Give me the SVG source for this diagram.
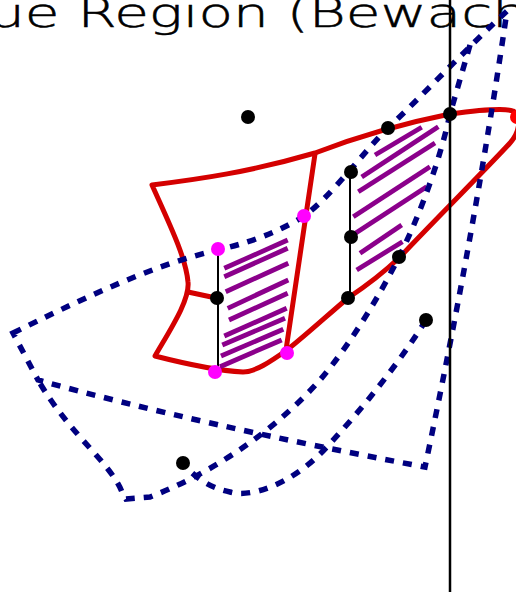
<svg xmlns="http://www.w3.org/2000/svg" width="516" height="592" viewBox="0 0 516 592">
<style>
.title{font-family:"DejaVu Sans","Liberation Sans",sans-serif;font-weight:200;font-size:40px;fill:#000;stroke:#000;stroke-width:0.5}
.red{fill:none;stroke:#d40000;stroke-width:5;stroke-linejoin:round;stroke-linecap:round}
.blue{fill:none;stroke:#000080;stroke-width:5.5;stroke-dasharray:9 9}
.hatch{stroke:#8b008b;stroke-width:4.8;stroke-linecap:butt}
.thin{stroke:#000;stroke-width:2}
.axis{stroke:#000;stroke-width:2.5}
.dot{fill:#000}
.mag{fill:#ff00ff}
</style>
<rect width="516" height="592" fill="#fff"/>
<g id="title">
<text class="title" x="-11" y="27" textLength="539" lengthAdjust="spacingAndGlyphs">ue Region (Bewach</text>
</g>
<g id="red-region">
<path class="red" d="M152,185 C200,179 250,172 315,153 Q380,128 450,114 C480,110 505,108 513,111 C522,116 520,132 510,143 C490,165 430,225 400,257 C380,276 360,290 348,298 C330,313 305,336 287,350 C270,362 255,372 243,372 C225,371 190,365 155,356 C170,330 190,300 188,282 C186,258 170,225 152,185 Z"/>
<path class="red" d="M188,292 L216,298"/>
<path class="red" d="M315,154 L286,350"/>
</g>
<g id="hatch-left">
<line class="hatch" x1="224.3" y1="268.3" x2="287.7" y2="240"/>
<line class="hatch" x1="224.3" y1="276.7" x2="287.7" y2="248.3"/>
<line class="hatch" x1="225.7" y1="291.7" x2="288.3" y2="263.3"/>
<line class="hatch" x1="227.7" y1="308.3" x2="288.3" y2="280"/>
<line class="hatch" x1="229" y1="320" x2="287.7" y2="293.3"/>
<line class="hatch" x1="224.3" y1="336" x2="286.7" y2="308.3"/>
<line class="hatch" x1="222.3" y1="345" x2="285" y2="318.3"/>
<line class="hatch" x1="221" y1="356" x2="283.3" y2="329.3"/>
<line class="hatch" x1="220" y1="366.7" x2="281.7" y2="340"/>
</g>
<g id="hatch-right">
<line class="hatch" x1="375" y1="155" x2="421.7" y2="127.3"/>
<line class="hatch" x1="361.7" y1="177" x2="438.3" y2="126.7"/>
<line class="hatch" x1="358.3" y1="191.7" x2="435" y2="143"/>
<line class="hatch" x1="353.3" y1="216.7" x2="430" y2="166.7"/>
<line class="hatch" x1="350" y1="236.7" x2="426.7" y2="186.7"/>
<line class="hatch" x1="360" y1="253.3" x2="401.7" y2="225"/>
<line class="hatch" x1="356.7" y1="270" x2="402.5" y2="241.7"/>
</g>
<g id="connectors">
<path id="curve-a" class="blue" d="M13,333 C70,305 150,265 218,250 C260,240 285,228 304,216 C330,198 365,150 388,128 C420,98 470,45 507,11 Q475,230 425,467 Q200,425 38,380 Z"/>
<path id="curve-b" class="blue" d="M470,45 L450,114 C440,160 420,215 399,257 C380,295 350,345 320,380 C280,425 220,470 150,497 L126,499 L122,492 C110,462 70,435 38,380"/>
<path id="curve-c" class="blue" d="M426,320 C400,362 360,412 323,451 C290,485 250,498 230,492 C210,488 195,478 183,463"/>
</g>
<g id="guides">
<line class="axis" x1="450" y1="0" x2="450" y2="592"/>
<line class="thin" x1="218" y1="250" x2="218" y2="373"/>
<line class="thin" x1="350" y1="172" x2="350" y2="298"/>
</g>
<g id="points">
<circle class="dot" cx="248" cy="117" r="7"/>
<circle class="dot" cx="388" cy="128" r="7"/>
<circle class="dot" cx="450" cy="114" r="7"/>
<circle class="dot" cx="351" cy="172" r="7"/>
<circle class="dot" cx="351" cy="237" r="7"/>
<circle class="dot" cx="399" cy="257" r="7"/>
<circle class="dot" cx="348" cy="298" r="7"/>
<circle class="dot" cx="217" cy="298" r="7"/>
<circle class="dot" cx="426" cy="320" r="7"/>
<circle class="dot" cx="183" cy="463" r="7"/>
<circle class="mag" cx="218" cy="249" r="7"/>
<circle class="mag" cx="304" cy="216" r="7"/>
<circle class="mag" cx="287" cy="353" r="7"/>
<circle class="mag" cx="215" cy="372" r="7"/>
<circle fill="#ff0000" cx="517" cy="117" r="7"/>
</g>
</svg>
